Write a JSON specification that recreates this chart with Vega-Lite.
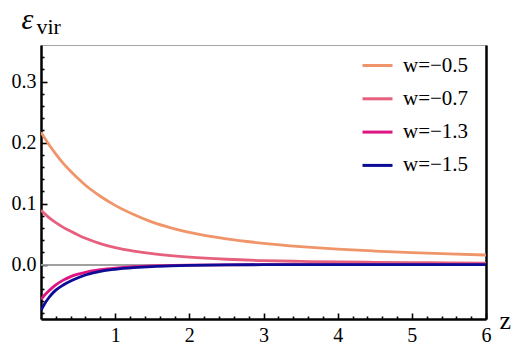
{
  "$schema": "https://vega.github.io/schema/vega-lite/v6.json",
  "width": 445,
  "height": 274,
  "autosize": {"type": "none"},
  "padding": {"left": 41, "top": 45, "right": 36, "bottom": 43},
  "background": "white",
  "config": {
    "view": {"stroke": "#a6a6a6", "strokeWidth": 1},
    "font": "Liberation Serif",
    "axis": {"labelFont": "Liberation Serif", "titleFont": "Liberation Serif", "labelColor": "black", "titleColor": "black", "grid": false}
  },
  "data": {
    "values": [
      {"w": "w=−0.5", "z": 0, "eps": 0.217},
      {"w": "w=−0.5", "z": 0.1, "eps": 0.198},
      {"w": "w=−0.5", "z": 0.2, "eps": 0.181},
      {"w": "w=−0.5", "z": 0.3, "eps": 0.166},
      {"w": "w=−0.5", "z": 0.4, "eps": 0.153},
      {"w": "w=−0.5", "z": 0.5, "eps": 0.141},
      {"w": "w=−0.5", "z": 0.6, "eps": 0.130},
      {"w": "w=−0.5", "z": 0.8, "eps": 0.112},
      {"w": "w=−0.5", "z": 1.0, "eps": 0.097},
      {"w": "w=−0.5", "z": 1.25, "eps": 0.082},
      {"w": "w=−0.5", "z": 1.5, "eps": 0.0695},
      {"w": "w=−0.5", "z": 1.75, "eps": 0.0602},
      {"w": "w=−0.5", "z": 2.0, "eps": 0.0527},
      {"w": "w=−0.5", "z": 2.5, "eps": 0.0420},
      {"w": "w=−0.5", "z": 3.0, "eps": 0.0348},
      {"w": "w=−0.5", "z": 3.5, "eps": 0.0294},
      {"w": "w=−0.5", "z": 4.0, "eps": 0.0252},
      {"w": "w=−0.5", "z": 4.5, "eps": 0.0221},
      {"w": "w=−0.5", "z": 5.0, "eps": 0.0195},
      {"w": "w=−0.5", "z": 5.5, "eps": 0.0174},
      {"w": "w=−0.5", "z": 6.0, "eps": 0.0156},

      {"w": "w=−0.7", "z": 0, "eps": 0.089},
      {"w": "w=−0.7", "z": 0.1, "eps": 0.0778},
      {"w": "w=−0.7", "z": 0.2, "eps": 0.0686},
      {"w": "w=−0.7", "z": 0.3, "eps": 0.0610},
      {"w": "w=−0.7", "z": 0.4, "eps": 0.0545},
      {"w": "w=−0.7", "z": 0.5, "eps": 0.0485},
      {"w": "w=−0.7", "z": 0.6, "eps": 0.0430},
      {"w": "w=−0.7", "z": 0.8, "eps": 0.0343},
      {"w": "w=−0.7", "z": 1.0, "eps": 0.0279},
      {"w": "w=−0.7", "z": 1.25, "eps": 0.0221},
      {"w": "w=−0.7", "z": 1.5, "eps": 0.0178},
      {"w": "w=−0.7", "z": 1.75, "eps": 0.0146},
      {"w": "w=−0.7", "z": 2.0, "eps": 0.0121},
      {"w": "w=−0.7", "z": 2.5, "eps": 0.0087},
      {"w": "w=−0.7", "z": 3.0, "eps": 0.0065},
      {"w": "w=−0.7", "z": 3.5, "eps": 0.0052},
      {"w": "w=−0.7", "z": 4.0, "eps": 0.0042},
      {"w": "w=−0.7", "z": 4.5, "eps": 0.0036},
      {"w": "w=−0.7", "z": 5.0, "eps": 0.0031},
      {"w": "w=−0.7", "z": 5.5, "eps": 0.0027},
      {"w": "w=−0.7", "z": 6.0, "eps": 0.0024},

      {"w": "w=−1.3", "z": 0, "eps": -0.057},
      {"w": "w=−1.3", "z": 0.05, "eps": -0.050},
      {"w": "w=−1.3", "z": 0.1, "eps": -0.0437},
      {"w": "w=−1.3", "z": 0.15, "eps": -0.0382},
      {"w": "w=−1.3", "z": 0.2, "eps": -0.0334},
      {"w": "w=−1.3", "z": 0.3, "eps": -0.0256},
      {"w": "w=−1.3", "z": 0.4, "eps": -0.0198},
      {"w": "w=−1.3", "z": 0.5, "eps": -0.0158},
      {"w": "w=−1.3", "z": 0.6, "eps": -0.0127},
      {"w": "w=−1.3", "z": 0.8, "eps": -0.0085},
      {"w": "w=−1.3", "z": 1.0, "eps": -0.0058},
      {"w": "w=−1.3", "z": 1.25, "eps": -0.0036},
      {"w": "w=−1.3", "z": 1.5, "eps": -0.0023},
      {"w": "w=−1.3", "z": 1.75, "eps": -0.0015},
      {"w": "w=−1.3", "z": 2.0, "eps": -0.0010},
      {"w": "w=−1.3", "z": 2.5, "eps": -0.0005},
      {"w": "w=−1.3", "z": 3.0, "eps": -0.0002},
      {"w": "w=−1.3", "z": 4.0, "eps": -0.00005},
      {"w": "w=−1.3", "z": 5.0, "eps": 0},
      {"w": "w=−1.3", "z": 6.0, "eps": 0},

      {"w": "w=−1.5", "z": 0, "eps": -0.075},
      {"w": "w=−1.5", "z": 0.05, "eps": -0.0642},
      {"w": "w=−1.5", "z": 0.1, "eps": -0.0553},
      {"w": "w=−1.5", "z": 0.15, "eps": -0.0480},
      {"w": "w=−1.5", "z": 0.2, "eps": -0.0420},
      {"w": "w=−1.5", "z": 0.3, "eps": -0.0335},
      {"w": "w=−1.5", "z": 0.4, "eps": -0.0270},
      {"w": "w=−1.5", "z": 0.5, "eps": -0.0217},
      {"w": "w=−1.5", "z": 0.6, "eps": -0.0172},
      {"w": "w=−1.5", "z": 0.8, "eps": -0.0112},
      {"w": "w=−1.5", "z": 1.0, "eps": -0.0078},
      {"w": "w=−1.5", "z": 1.25, "eps": -0.0051},
      {"w": "w=−1.5", "z": 1.5, "eps": -0.0033},
      {"w": "w=−1.5", "z": 1.75, "eps": -0.0022},
      {"w": "w=−1.5", "z": 2.0, "eps": -0.0015},
      {"w": "w=−1.5", "z": 2.5, "eps": -0.0007},
      {"w": "w=−1.5", "z": 3.0, "eps": -0.0003},
      {"w": "w=−1.5", "z": 4.0, "eps": -0.0001},
      {"w": "w=−1.5", "z": 5.0, "eps": 0},
      {"w": "w=−1.5", "z": 6.0, "eps": 0}
    ]
  },
  "resolve": {"axis": {"x": "independent", "y": "independent"}},
  "layer": [
    {
      "mark": {"type": "rule", "color": "#a0a0a0", "strokeWidth": 1},
      "encoding": {
        "y": {"datum": 0, "type": "quantitative", "scale": {"domain": [-0.0893, 0.36], "nice": false, "zero": false}, "axis": null}
      }
    },
    {
      "mark": {"type": "line", "strokeWidth": 2.8, "interpolate": "monotone", "clip": true},
      "encoding": {
        "x": {
          "field": "z", "type": "quantitative",
          "scale": {"domain": [0, 6], "nice": false, "zero": false},
          "axis": {
            "orient": "bottom", "values": [1, 2, 3, 4, 5, 6],
            "domainColor": "black", "domainWidth": 2.5,
            "tickColor": "black", "tickWidth": 1.6, "tickSize": -6,
            "labelFontSize": 20, "labelPadding": 12, "labelFlush": false,
            "title": "z", "titleFontSize": 26, "titleFontWeight": "normal",
            "titleAnchor": "end", "titleAlign": "left", "titleBaseline": "alphabetic",
            "titleX": 458, "titleY": 9
          }
        },
        "y": {
          "field": "eps", "type": "quantitative",
          "scale": {"domain": [-0.0893, 0.36], "nice": false, "zero": false},
          "axis": {
            "orient": "left", "values": [0, 0.1, 0.2, 0.3], "format": ".1f",
            "domainColor": "black", "domainWidth": 2.5,
            "tickColor": "black", "tickWidth": 1.6, "tickSize": -6,
            "labelFontSize": 20, "labelPadding": 11,
            "title": "ε", "titleFontSize": 30, "titleFontStyle": "italic", "titleFontWeight": "normal",
            "titleAngle": 0, "titleAlign": "left", "titleBaseline": "alphabetic",
            "titleX": -20, "titleY": -17
          }
        },
        "color": {
          "field": "w", "type": "nominal",
          "scale": {
            "domain": ["w=−0.5", "w=−0.7", "w=−1.3", "w=−1.5"],
            "range": ["#F0956A", "#E6607E", "#DE1482", "#0C0C96"]
          },
          "legend": {
            "orient": "none", "legendX": 320, "legendY": 4,
            "title": null, "symbolType": "stroke", "symbolSize": 900, "symbolStrokeWidth": 3,
            "labelFont": "Liberation Serif", "labelFontSize": 21, "labelColor": "black",
            "labelOffset": 9, "rowPadding": 6.3, "padding": 0
          }
        }
      }
    },
    {
      "mark": {"type": "line", "opacity": 0},
      "encoding": {
        "x": {
          "field": "z", "type": "quantitative",
          "axis": {
            "orient": "bottom",
            "values": [0.2, 0.4, 0.6, 0.8, 1.2, 1.4, 1.6, 1.8, 2.2, 2.4, 2.6, 2.8, 3.2, 3.4, 3.6, 3.8, 4.2, 4.4, 4.6, 4.8, 5.2, 5.4, 5.6, 5.8],
            "domain": false, "labels": false, "title": null,
            "tickColor": "black", "tickWidth": 1.6, "tickSize": -3
          }
        },
        "y": {
          "field": "eps", "type": "quantitative",
          "axis": {
            "orient": "left",
            "values": [-0.08, -0.06, -0.04, -0.02, 0.02, 0.04, 0.06, 0.08, 0.12, 0.14, 0.16, 0.18, 0.22, 0.24, 0.26, 0.28, 0.32, 0.34],
            "domain": false, "labels": false,
            "tickColor": "black", "tickWidth": 1.6, "tickSize": -3,
            "title": "vir", "titleFontSize": 22, "titleFontWeight": "normal",
            "titleAngle": 0, "titleAlign": "left", "titleBaseline": "alphabetic",
            "titleX": -5, "titleY": -12
          }
        },
        "detail": {"field": "w"}
      }
    },
    {
      "mark": {"type": "line", "opacity": 0},
      "encoding": {
        "y": {
          "field": "eps", "type": "quantitative",
          "axis": {"orient": "right", "domainColor": "black", "domainWidth": 2.5, "ticks": false, "labels": false, "title": null}
        },
        "x": {"field": "z", "type": "quantitative", "axis": null},
        "detail": {"field": "w"}
      }
    }
  ]
}
